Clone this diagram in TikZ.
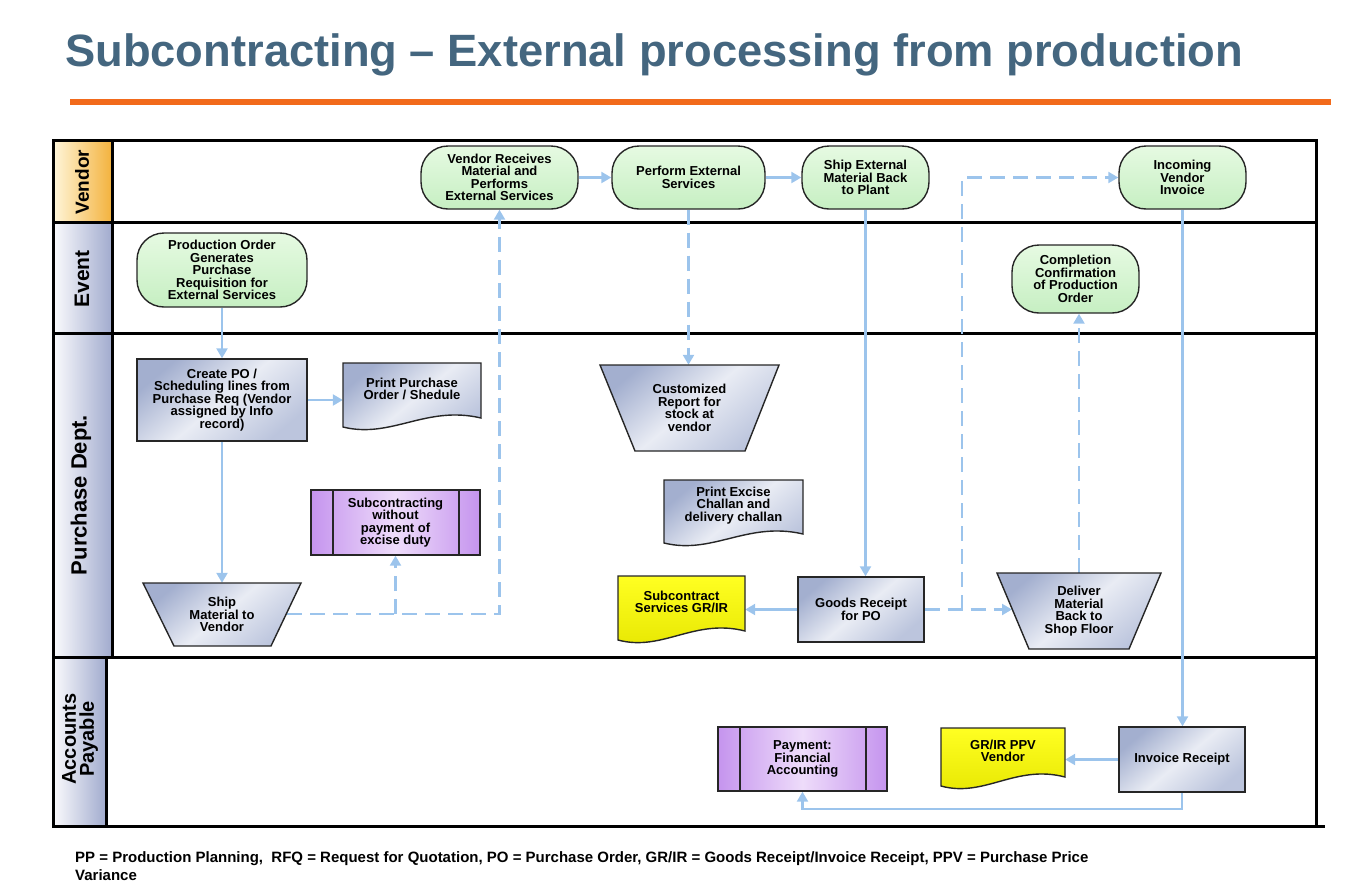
\documentclass[tikz,border=0pt]{standalone}
\usepackage{fontspec}
\setmainfont{Liberation Sans}
\usetikzlibrary{arrows.meta,calc}
\pgfdeclarelayer{lanes}\pgfdeclarelayer{conn}\pgfdeclarelayer{shapes}
\pgfsetlayers{lanes,conn,shapes,main}
\definecolor{titleblue}{HTML}{44667F}
\definecolor{rulecol}{HTML}{F26A1B}
\definecolor{flowblue}{HTML}{9CC4EC}
\definecolor{grtop}{HTML}{E6FAE2}
\definecolor{grbot}{HTML}{C6EFC2}
\definecolor{bltop}{HTML}{A3AFCF}
\definecolor{blmid}{HTML}{E9ECF4}
\definecolor{blbot}{HTML}{BCC5DD}
\definecolor{puside}{HTML}{C594EE}
\definecolor{pumid}{HTML}{EEDCFA}
\definecolor{yetop}{HTML}{FFFF22}
\definecolor{yebot}{HTML}{E6E600}
\definecolor{laneA}{HTML}{FBFBFD}
\definecolor{laneB}{HTML}{A1ABCE}
\definecolor{vendA}{HTML}{FFF6DA}
\definecolor{vendB}{HTML}{F3B23D}
\newcommand\nodebf{\bfseries\fontsize{13}{12.5}\selectfont}
\newcommand\lanefont[1]{\bfseries\fontsize{#1}{#1}\selectfont}
\tikzset{
  shapeline/.style={draw=black!85, line width=1.4},
  greenfill/.style={top color=grtop, bottom color=grbot},
  bluefill/.style={top color=bltop, bottom color=blbot, middle color=blmid, shading angle=40},
  purplefill/.style={left color=puside, right color=puside, middle color=pumid},
  yellowfill/.style={top color=yetop, bottom color=yebot},
  lanebd/.style={draw=black, line width=3},
  event/.style={shapeline, greenfill, rounded corners=27, align=center, font=\nodebf, inner sep=0},
  procbox/.style={shapeline, bluefill, align=center, inner sep=0, font=\nodebf},
  subproc/.style={shapeline, purplefill, align=center, inner sep=0, font=\nodebf,
    path picture={
      \draw[line width=1.4, black!85] ([xshift=22pt]path picture bounding box.north west) -- ([xshift=22pt]path picture bounding box.south west);
      \draw[line width=1.4, black!85] ([xshift=-21pt]path picture bounding box.north east) -- ([xshift=-21pt]path picture bounding box.south east);
    }},
  flow/.style={draw=flowblue, line width=2.3, -{Triangle[length=10pt,width=11pt]}},
  flowd/.style={flow, dash pattern=on 15pt off 8pt},
  lanelabel/.style={rotate=90, align=center, inner sep=0},
}
\newcommand\trapnode[8]{%
  \begin{pgfonlayer}{shapes}
    \path[shapeline, bluefill] (#2,#4) -- (#3,#4) -- (#6,#7) -- (#5,#7) -- cycle;
  \end{pgfonlayer}
  \node[align=center, font=\nodebf, inner sep=0, minimum width={(#3-#2)*1pt}, minimum height={(#7-#4)*1pt}] (#1) at ({(#2+#3)/2},{(#4+#7)/2}) {#8};
}
\newcommand\docnode[7]{%
  \begin{pgfonlayer}{shapes}
    \path[shapeline, #6] (#2,#3) -- (#4,#3) -- (#4,{#5-9}) .. controls ({#2+0.6*(#4-#2)},{#5-22}) and ({#2+0.35*(#4-#2)},{#5+12}) .. (#2,#5) -- cycle;
  \end{pgfonlayer}
  \node[inner sep=0, minimum width={(#4-#2)*1pt}, minimum height={(#5-#3)*1pt}] (#1) at ({(#2+#4)/2},{(#3+#5)/2}) {};
  \node[align=center, font=\nodebf, inner sep=0] (#1t) at ({(#2+#4)/2},{(#3+#5)/2-6}) {#7};
}
\begin{document}
\begin{tikzpicture}[x=1pt, y=-1pt]
\useasboundingbox (0,0) rectangle (1345,892);

% title and rule
\node[anchor=base west, font=\bfseries\fontsize{45.3}{50}\selectfont, text=titleblue, inner sep=0] (title) at (65,66) {Subcontracting – External processing from production};
\draw[line width=5.5, rulecol] (70,102) -- (1331,102);

% swimlanes
\begin{pgfonlayer}{lanes}
  \path[left color=vendA, right color=vendB] (53,140) rectangle (112,222);
  \path[left color=laneA, right color=laneB] (53,222) rectangle (112,333);
  \path[left color=laneA, right color=laneB] (53,333) rectangle (112,657);
  \path[left color=laneA, right color=laneB] (53,657) rectangle (106,826);
  \draw[lanebd] (53,140) rectangle (1316,657);
  \draw[lanebd] (53,222) -- (1316,222);
  \draw[lanebd] (53,333) -- (1316,333);
  \draw[lanebd] (112,140) -- (112,657);
  \draw[lanebd] (53,657) -- (53,826) -- (1325,826);
  \draw[lanebd] (1316,657) -- (1316,826);
  \draw[lanebd] (106,657) -- (106,826);
\end{pgfonlayer}
\node[lanelabel, font=\lanefont{19}] (lv) at (82,182) {Vendor};
\node[lanelabel, font=\lanefont{21}] (le) at (82,279) {Event};
\node[lanelabel, font=\lanefont{22}] (lp) at (81,495) {Purchase Dept.};
\node[lanelabel, font=\lanefont{20}] (la) at (80,739) {Accounts\\[-2pt]Payable};

% vendor lane
\node[event, minimum width=157, minimum height=63] (vr) at (499.5,177.5) {Vendor Receives\\Material and\\Performs\\External Services};
\node[event, minimum width=153, minimum height=63] (pe) at (688.5,177.5) {Perform External\\Services};
\node[event, minimum width=127, minimum height=63] (se) at (865.5,177.5) {Ship External\\Material Back\\to Plant};
\node[event, minimum width=127, minimum height=63] (iv) at (1182.5,177.5) {Incoming\\Vendor\\Invoice};

% event lane
\node[event, minimum width=170, minimum height=74] (po) at (222,270) {Production Order\\Generates\\Purchase\\Requisition for\\External Services};
\node[event, minimum width=127, minimum height=68] (cc) at (1075.5,279) {Completion\\Confirmation\\of Production\\Order};

% purchase dept lane
\node[procbox, minimum width=170, minimum height=82] (cp) at (222,400) {Create PO /\\Scheduling lines from\\Purchase Req (Vendor\\assigned by Info\\record)};
\docnode{pp}{343}{363}{481}{427}{bluefill}{Print Purchase\\Order / Shedule}
\trapnode{cr}{600}{779}{365}{635}{745}{451}{Customized\\Report for\\stock at\\vendor}
\docnode{pc}{664}{480}{803}{543}{bluefill}{Print Excise\\Challan and\\delivery challan}
\node[subproc, minimum width=169, minimum height=65] (sw) at (395.5,522.5) {Subcontracting\\without\\payment of\\excise duty};
\trapnode{sm}{143}{301}{583}{174}{271}{646}{Ship\\Material to\\Vendor}
\docnode{ss}{618}{576}{745}{640}{yellowfill}{Subcontract\\Services GR/IR}
\node[procbox, minimum width=126, minimum height=65] (gr) at (861,609.5) {Goods Receipt\\for PO};
\trapnode{dm}{997}{1161}{573}{1029}{1129}{649}{Deliver\\Material\\Back to\\Shop Floor}

% accounts payable lane
\node[subproc, minimum width=169, minimum height=64] (pf) at (802.5,759) {Payment:\\Financial\\Accounting};
\docnode{gv}{941}{728}{1065}{786}{yellowfill}{GR/IR PPV\\Vendor}
\node[procbox, minimum width=126, minimum height=65] (ir) at (1182,759.5) {Invoice Receipt};

% helper coordinates
\coordinate (smr) at (287,614);
\coordinate (br1) at (sw.south |- smr);
\coordinate (dml) at (1012,609.5);
\coordinate (br2) at (962,609.5);

% connectors
\begin{pgfonlayer}{conn}
  \draw[flow] (po.south) -- (cp.north);
  \draw[flow] (cp.south) -- (cp.south |- sm.north);
  \draw[flow] (cp.east) -- (cp.east -| pp.west);
  \draw[flowd] (smr) -| (vr.south);
  \draw[flowd] (br1) -- (sw.south);
  \draw[flow] (vr.east) -- (pe.west);
  \draw[flow] (pe.east) -- (se.west);
  \draw[flowd] (pe.south) -- (pe.south |- cr.north);
  \draw[flow] (se.south) -- (se.south |- gr.north);
  \draw[flow] (gr.west) -- (gr.west -| ss.east);
  \draw[flowd] (gr.east) -- (dml);
  \draw[flowd] (br2) |- (iv.west);
  \draw[flowd] (dm.north) -- (dm.north |- cc.south);
  \draw[flow] (iv.south) -- (iv.south |- ir.north);
  \draw[flow] (ir.south) -- ++(0,16) -| (pf.south);
  \draw[flow] (ir.west) -- (ir.west -| gv.east);
\end{pgfonlayer}

% footnote
\node[anchor=base west, font=\bfseries\fontsize{15}{18}\selectfont, inner sep=0] (foot1) at (75,862) {PP = Production Planning,\ \ RFQ = Request for Quotation, PO = Purchase Order, GR/IR = Goods Receipt/Invoice Receipt, PPV = Purchase Price};
\node[anchor=base west, font=\bfseries\fontsize{15}{18}\selectfont, inner sep=0] (foot2) at (75,880) {Variance};
\end{tikzpicture}
\end{document}
